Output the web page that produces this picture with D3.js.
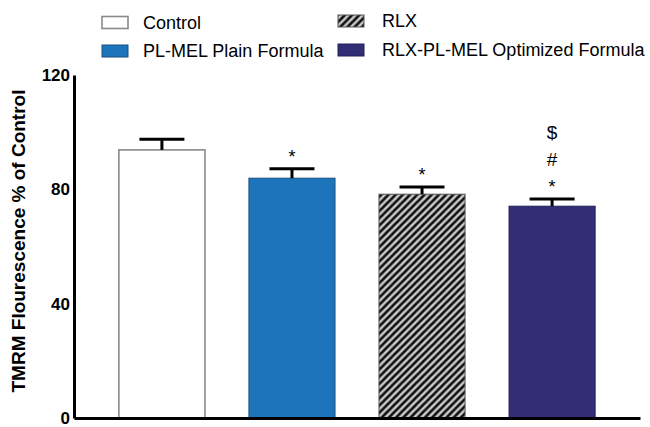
<!DOCTYPE html>
<html>
<head>
<meta charset="utf-8">
<script src="https://cdn.jsdelivr.net/npm/d3@7"></script>
<style>
  html, body { margin: 0; padding: 0; background: #fff; }
  svg { display: block; font-family: "Liberation Sans", Arial, sans-serif; }
</style>
</head>
<body>
<svg id="chart" width="650" height="427"></svg>
<script>
// Groups, mean TMRM fluorescence (% of control) and SEM
const groups = ["Control", "PL-MEL Plain Formula", "RLX", "RLX-PL-MEL Optimized Formula"];
const means = [93.8, 83.9, 78.3, 74.1];
const sems = [3.7, 3.3, 2.5, 2.5];
// Significance marks stacked above each bar (bottom to top)
const marks = [[], ["*"], ["*"], ["*", "#", "$"]];
const yTicks = [0, 40, 80, 120];
const yTitle = "TMRM Flourescence % of Control";

const fills = ["#ffffff", "#1c74bb", "url(#hatch)", "#322d75"];
const strokes = ["#8a8a8a", "#1a4f80", "#555555", "#221f55"];

const svg = d3.select("#chart");

// hatch pattern for the RLX group
const P = 7.2;
const defs = svg.append("defs");
const pat = defs.append("pattern")
  .attr("id", "hatch")
  .attr("patternUnits", "userSpaceOnUse")
  .attr("width", P).attr("height", P);
pat.append("rect").attr("width", P).attr("height", P).attr("fill", "#cbcbcb");
pat.append("path")
  .attr("d", `M${-P / 4},${P / 4} L${P / 4},${-P / 4} M0,${P} L${P},0 M${P * 0.75},${P * 1.25} L${P * 1.25},${P * 0.75}`)
  .attr("stroke", "#111").attr("stroke-width", 2.7);

const x = d3.scaleBand().domain(groups).range([74, 640]).paddingInner(0.338).paddingOuter(0.345);
const y = d3.scaleLinear().domain([0, 120]).range([418, 75]);

// bars
svg.append("g").selectAll("rect")
  .data(groups)
  .join("rect")
  .attr("x", d => x(d))
  .attr("width", x.bandwidth())
  .attr("y", (d, i) => y(means[i]))
  .attr("height", (d, i) => y(0) - y(means[i]))
  .attr("fill", (d, i) => fills[i])
  .attr("stroke", (d, i) => strokes[i])
  .attr("stroke-width", (d, i) => i === 0 ? 1.6 : 1);

// error bars (upper only)
const capW = 45;
const eb = svg.append("g").attr("stroke", "#000").attr("stroke-width", 3);
groups.forEach((g, i) => {
  const cx = x(g) + x.bandwidth() / 2;
  eb.append("line").attr("x1", cx).attr("x2", cx)
    .attr("y1", y(means[i])).attr("y2", y(means[i] + sems[i]));
  eb.append("line").attr("x1", cx - capW / 2).attr("x2", cx + capW / 2)
    .attr("y1", y(means[i] + sems[i])).attr("y2", y(means[i] + sems[i]));
});

// significance marks
const ann = svg.append("g").attr("text-anchor", "middle").attr("fill", "#000");
groups.forEach((g, i) => {
  const cx = x(g) + x.bandwidth() / 2;
  const top = y(means[i] + sems[i]);
  marks[i].forEach((m, k) => {
    if (m === "*") {
      ann.append("text").attr("x", cx).attr("y", top - 6 - k * 26)
        .attr("font-size", 18).text(m);
    } else {
      ann.append("text").attr("x", cx).attr("y", top - 33 - (k - 1) * 26 + (m === "$" ? -1 : 0))
        .attr("font-size", 19).text(m);
    }
  });
});

// axes
const yAxis = d3.axisLeft(y).tickValues(yTicks).tickSize(0).tickSizeOuter(0).tickPadding(4);
const gy = svg.append("g").attr("transform", "translate(74,0)").call(yAxis);
gy.select(".domain").attr("stroke", "#000").attr("stroke-width", 3);
gy.selectAll("text").attr("font-size", 17).attr("font-weight", "bold")
  .attr("font-family", "Liberation Sans, Arial, sans-serif").attr("fill", "#000");

const xAxis = d3.axisBottom(x).tickSize(0).tickSizeOuter(0).tickFormat("");
const gx = svg.append("g").attr("transform", "translate(0,418)").call(xAxis);
gx.select(".domain").attr("stroke", "#000").attr("stroke-width", 3);

// y-axis title
svg.append("text")
  .attr("transform", "translate(25,241) rotate(-90)")
  .attr("text-anchor", "middle")
  .attr("font-size", 19).attr("font-weight", "bold")
  .text(yTitle);

// legend (two columns, two rows)
const legPos = [[102, 22.5], [102, 51], [338, 21], [338, 50]];
const leg = svg.append("g");
groups.forEach((g, i) => {
  const [lx, ly] = legPos[i];
  leg.append("rect").attr("x", lx).attr("y", ly - 6).attr("width", 26).attr("height", 12)
    .attr("fill", fills[i]).attr("stroke", strokes[i]).attr("stroke-width", i === 0 ? 1.6 : 1);
  leg.append("text").attr("x", lx + (i < 2 ? 41 : 44)).attr("y", ly)
    .attr("dy", "0.35em").attr("font-size", 18).text(g);
});
</script>
</body>
</html>
